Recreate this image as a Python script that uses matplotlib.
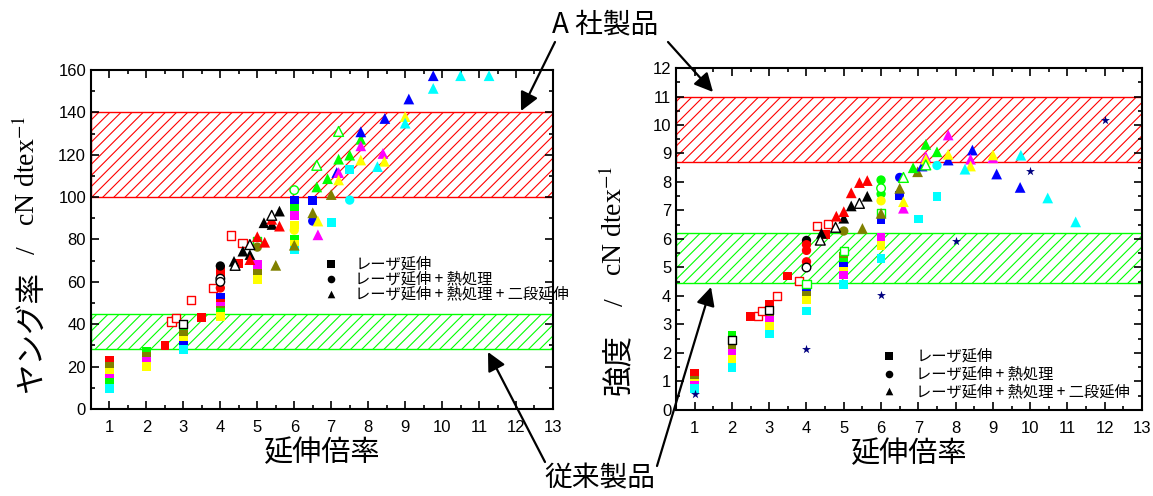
"""
Young's modulus and tenacity vs draw ratio, with hatched bands for
company A products and conventional products.
"""

import matplotlib
matplotlib.use("Agg")
import matplotlib.pyplot as plt
from matplotlib.ticker import MultipleLocator

plt.rcParams["font.family"] = ["Liberation Sans", "Noto Sans CJK JP", "DejaVu Sans"]
plt.rcParams["hatch.linewidth"] = 0.8

JP = ["Noto Sans CJK JP", "DejaVu Sans"]
SERIF = ["Liberation Serif", "DejaVu Serif"]

RED, OLIVE, YEL, MAG = "#ff0000", "#808000", "#ffff00", "#ff00ff"
GRN, CYA, BLU, BLK, NAVY = "#00ff00", "#00ffff", "#0000ff", "#000000", "#000080"

# ---------------------------------------------------------------------------
# Young's modulus panel (cN/dtex)
# ---------------------------------------------------------------------------
ym_sq_x = [1, 1, 1, 1, 1, 1, 2, 2, 2, 2, 2.5, 3, 3, 3, 3, 3, 3.5,
           4, 4, 4, 4, 4, 4, 4, 4, 4.5, 5, 5, 5,
           6, 6, 6, 6, 6, 6, 6, 6.5, 7, 7.5]
ym_sq_y = [22.9, 20, 17.2, 14.5, 12.5, 9.6, 27, 25, 22.5, 20, 30, 37, 35.3, 32.3, 29.8, 28.2, 43,
           65.5, 63.5, 52.5, 50, 48.4, 46.4, 45.6, 43.7, 68.5, 68.2, 64.2, 61.1,
           98.5, 94.7, 91.4, 86.8, 80, 77.5, 75, 98.5, 87.9, 113]
ym_sq_c = [RED, OLIVE, YEL, MAG, GRN, CYA, GRN, OLIVE, MAG, YEL, RED, GRN, OLIVE, YEL, BLU, CYA, RED,
           RED, RED, BLU, RED, MAG, OLIVE, GRN, YEL, RED, MAG, OLIVE, YEL,
           BLU, GRN, MAG, YEL, GRN, YEL, CYA, BLU, CYA, CYA]

ym_sqo_x = [2.68, 2.79, 3.2, 3.8, 4.3, 4.6, 3.0, 5.0]
ym_sqo_y = [41.3, 42.9, 51.3, 57, 81.9, 78.4, 40.2, 79.2]
ym_sqo_c = [RED, RED, RED, RED, RED, RED, BLK, GRN]

ym_ci_x = [4, 4, 5, 6, 6.5, 7.5]
ym_ci_y = [67.5, 57.1, 76.4, 84.4, 88.7, 98.6]
ym_ci_c = [BLK, RED, OLIVE, YEL, BLU, CYA]

ym_cio_x = [4, 4, 6]
ym_cio_y = [61.5, 60, 103.3]
ym_cio_c = [BLK, BLK, GRN]

ym_tri_x = [4.37, 4.61, 4.8, 5.18, 5.4, 5.6,
            4.8, 5.0, 5.2, 5.39, 5.6,
            5.5, 6.0, 6.5, 7.0,
            6.61, 6.9, 7.2, 7.5, 7.8,
            7.15, 7.8, 8.45, 9.1, 9.76,
            6.64, 7.2, 7.8, 8.4,
            6.64, 7.2, 7.8, 8.44, 9.0,
            8.25, 9.0, 9.76, 10.5, 11.27]
ym_tri_y = [69.7, 74.5, 72.9, 87.9, 87.1, 93.4,
            70.5, 81.3, 78.7, 89.5, 86.3,
            67.8, 77.3, 92.6, 101.2,
            104.8, 108.7, 117.9, 119.8, 127.3,
            111.6, 130.8, 137.1, 146.3, 157.3,
            82.2, 111.6, 124.2, 120.6,
            88.7, 108.1, 117.5, 116.9, 138,
            114.4, 134.9, 151.3, 157.3, 157.3]
ym_tri_c = [BLK] * 6 + [RED] * 5 + [OLIVE] * 4 + [GRN] * 5 + [BLU] * 5 + \
           [MAG] * 4 + [YEL] * 5 + [CYA] * 5

ym_trio_x = [4.4, 4.8, 5.39, 6.61, 7.2]
ym_trio_y = [67.8, 77.6, 91.4, 115, 131]
ym_trio_c = [BLK, BLK, BLK, GRN, GRN]

ym_band_a = (100, 140)
ym_band_conv = (28.5, 45)

# ---------------------------------------------------------------------------
# Tenacity panel (cN/dtex)
# ---------------------------------------------------------------------------
st_sq_x = [1, 1, 1, 1, 1, 2, 2, 2, 2, 2, 2.5, 3, 3, 3, 3, 3, 3, 3.5,
           4, 4, 4, 4, 4.5, 5, 5, 5, 5, 5, 5,
           6, 6, 6, 6, 6.5, 7, 7.5]
st_sq_y = [1.3, 1.05, 0.95, 0.85, 0.75, 2.63, 2.16, 1.99, 1.79, 1.49, 3.27,
           3.72, 3.6, 3.37, 3.13, 2.92, 2.67, 4.7,
           4.23, 4.03, 3.86, 3.47, 6.16, 5.4, 5.17, 5.05, 4.85, 4.74, 4.39,
           6.67, 6.06, 5.77, 5.32, 7.54, 6.7, 7.48]
st_sq_c = [RED, OLIVE, YEL, MAG, CYA, GRN, OLIVE, MAG, YEL, CYA, RED,
           RED, RED, OLIVE, MAG, YEL, CYA, RED,
           BLU, OLIVE, YEL, CYA, RED, OLIVE, GRN, BLU, YEL, MAG, CYA,
           BLU, MAG, YEL, CYA, BLU, CYA, CYA]

st_sqo_x = [2.7, 2.8, 3.2, 3.8, 4.27, 4.58, 2, 3, 4, 5, 6]
st_sqo_y = [3.3, 3.47, 4.0, 4.54, 6.47, 6.53, 2.46, 3.5, 4.42, 5.59, 6.92]
st_sqo_c = [RED] * 6 + [BLK, BLK, GRN, GRN, GRN]

st_ci_x = [4, 4, 4, 4, 5, 6, 6, 6, 6.5, 7.5]
st_ci_y = [5.95, 5.8, 5.6, 5.2, 6.28, 8.07, 7.58, 7.34, 8.16, 8.58]
st_ci_c = [BLK, RED, RED, RED, OLIVE, GRN, GRN, YEL, BLU, CYA]

st_cio_x = [4, 6]
st_cio_y = [5.0, 7.78]
st_cio_c = [BLK, GRN]

st_tri_x = [4.4, 5.0, 5.2, 5.63,
            4.8, 5.0, 5.2, 5.42, 5.63,
            5.5, 6.0, 6.5, 6.98,
            6.86, 7.2, 7.5,
            7.1, 7.8, 8.45, 9.1, 9.73,
            6.6, 7.2, 7.8, 8.4, 9.0,
            6.6, 7.2, 7.8, 8.4, 9.0,
            8.25, 9.75, 10.47, 11.22]
st_tri_y = [6.2, 6.73, 7.16, 7.5,
            6.8, 6.96, 7.62, 7.98, 8.05,
            6.37, 6.9, 7.78, 8.36,
            8.5, 9.32, 9.06,
            8.56, 8.77, 9.12, 8.28, 7.81,
            7.08, 8.89, 9.65, 8.8, 8.85,
            7.31, 8.8, 8.97, 8.56, 8.95,
            8.45, 8.94, 7.44, 6.6]
st_tri_c = [BLK] * 4 + [RED] * 5 + [OLIVE] * 4 + [GRN] * 3 + [BLU] * 5 + \
           [MAG] * 5 + [YEL] * 5 + [CYA] * 4

st_trio_x = [4.37, 4.78, 5.42, 6.6, 7.2]
st_trio_y = [5.96, 6.41, 7.25, 8.16, 8.6]
st_trio_c = [BLK, BLK, BLK, GRN, GRN]

st_star_x = [1, 4, 6, 8, 10, 12]
st_star_y = [0.56, 2.14, 4.04, 5.93, 8.39, 10.18]

st_band_a = (8.7, 11.0)
st_band_conv = (4.45, 6.2)

draw_ticks = list(range(1, 14))
legend_labels = ["レーザ延伸", "レーザ延伸 + 熱処理", "レーザ延伸 + 熱処理 + 二段延伸"]


def band(ax, lo, hi, color):
    ax.axhspan(lo, hi, facecolor="none", edgecolor=color, hatch="///", lw=1.0, zorder=1)


def scatter_set(ax, x, y, c, marker, size, filled=True):
    if filled:
        ax.scatter(x, y, s=size, c=c, marker=marker, linewidths=0, zorder=3)
    else:
        ax.scatter(x, y, s=size, facecolors="white", edgecolors=c, marker=marker,
                   linewidths=1.0, zorder=3)


def style_axes(ax, ymax, ymajor, yminor):
    ax.set_xlim(0.5, 13)
    ax.set_ylim(0, ymax)
    ax.set_xticks(draw_ticks)
    ax.xaxis.set_minor_locator(MultipleLocator(0.5))
    ax.yaxis.set_major_locator(MultipleLocator(ymajor))
    ax.yaxis.set_minor_locator(MultipleLocator(yminor))
    ax.tick_params(which="both", direction="in", top=True, right=True, width=1.2,
                   labelsize=12)
    ax.tick_params(which="major", length=6)
    ax.tick_params(which="minor", length=3)
    ax.tick_params(axis="x", pad=8)
    for sp in ax.spines.values():
        sp.set_linewidth(1.5)


def legend_block(ax, x_mark, x_text, ys):
    markers = ["s", "o", "^"]
    for m, yy, lab in zip(markers, ys, legend_labels):
        ax.scatter([x_mark], [yy], s=30, c="black", marker=m, linewidths=0, zorder=4)
        ax.text(x_text, yy, lab, fontsize=11, family=JP, va="center", ha="left")


fig = plt.figure(figsize=(11.53, 4.96), dpi=100)

# ---- left panel ----
ax1 = fig.add_axes([0.0789, 0.1754, 0.4007, 0.6835])
band(ax1, *ym_band_a, RED)
band(ax1, *ym_band_conv, GRN)
scatter_set(ax1, ym_sq_x, ym_sq_y, ym_sq_c, "s", 40)
scatter_set(ax1, ym_sqo_x, ym_sqo_y, ym_sqo_c, "s", 34, filled=False)
scatter_set(ax1, ym_ci_x, ym_ci_y, ym_ci_c, "o", 45)
scatter_set(ax1, ym_cio_x, ym_cio_y, ym_cio_c, "o", 38, filled=False)
scatter_set(ax1, ym_tri_x, ym_tri_y, ym_tri_c, "^", 60)
scatter_set(ax1, ym_trio_x, ym_trio_y, ym_trio_c, "^", 50, filled=False)
style_axes(ax1, 160, 20, 10)
legend_block(ax1, 7.0, 7.65, [68.5, 61.5, 54.5])
ax1.set_xlabel("延伸倍率", fontsize=21, family=JP, labelpad=2)

# ---- right panel ----
ax2 = fig.add_axes([0.5863, 0.1734, 0.4042, 0.6895])
band(ax2, *st_band_a, RED)
band(ax2, *st_band_conv, GRN)
scatter_set(ax2, st_sq_x, st_sq_y, st_sq_c, "s", 40)
scatter_set(ax2, st_sqo_x, st_sqo_y, st_sqo_c, "s", 34, filled=False)
scatter_set(ax2, st_ci_x, st_ci_y, st_ci_c, "o", 45)
scatter_set(ax2, st_cio_x, st_cio_y, st_cio_c, "o", 38, filled=False)
scatter_set(ax2, st_tri_x, st_tri_y, st_tri_c, "^", 60)
scatter_set(ax2, st_trio_x, st_trio_y, st_trio_c, "^", 50, filled=False)
ax2.scatter(st_star_x, st_star_y, s=45, c=NAVY, marker="*", linewidths=0, zorder=3)
style_axes(ax2, 12, 1, 0.5)
legend_block(ax2, 6.2, 6.95, [1.9, 1.27, 0.65])
ax2.set_xlabel("延伸倍率", fontsize=21, family=JP, labelpad=2)

# ---- y labels (Japanese part + serif unit part) ----
fig.text(0.027, 0.33, "ヤング率", rotation=90, fontsize=22, family=JP, ha="center", va="center")
fig.text(0.025, 0.496, "/", rotation=90, fontsize=20, family=SERIF, ha="center", va="center")
fig.text(0.0235, 0.655, "cN dtex$^{-1}$", rotation=90, fontsize=20, family=SERIF,
         ha="center", va="center", math_fontfamily="stix")

fig.text(0.536, 0.265, "強度", rotation=90, fontsize=22, family=JP, ha="center", va="center")
fig.text(0.535, 0.39, "/", rotation=90, fontsize=20, family=SERIF, ha="center", va="center")
fig.text(0.533, 0.555, "cN dtex$^{-1}$", rotation=90, fontsize=20, family=SERIF,
         ha="center", va="center", math_fontfamily="stix")

# ---- annotations ----
fig.text(0.525, 0.95, "A 社製品", fontsize=20, family=JP, ha="center", va="center")
fig.text(0.52, 0.035, "従来製品", fontsize=20, family=JP, ha="center", va="center")

over = fig.add_axes([0, 0, 1, 1], facecolor="none")
over.set_xlim(0, 1153)
over.set_ylim(496, 0)
over.axis("off")
arrow = dict(arrowstyle="-|>", mutation_scale=28, lw=1.6, color="black", shrinkA=0, shrinkB=0)
over.annotate("", xy=(521, 111), xytext=(555, 42), arrowprops=arrow)
over.annotate("", xy=(713, 92), xytext=(668, 42), arrowprops=arrow)
over.annotate("", xy=(488, 352), xytext=(545, 462), arrowprops=arrow)
over.annotate("", xy=(711, 287), xytext=(657, 466), arrowprops=arrow)

fig.savefig("out.png", dpi=100)
